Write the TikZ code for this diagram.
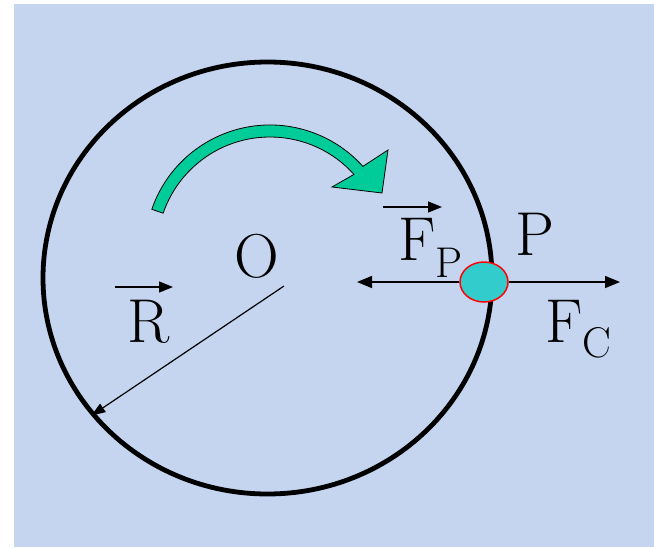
\documentclass[tikz,border=0pt]{standalone}
\usepackage{tikz}
\usetikzlibrary{positioning, shapes.geometric, arrows.meta, calc}
\definecolor{bgblue}{HTML}{C5D5F0}
\definecolor{spin}{HTML}{00CC99}
\definecolor{mass}{HTML}{33CCCC}

\begin{document}
\begin{tikzpicture}[x=1pt, y=-1pt,
 lbl/.style={inner sep=0pt, font=\rmfamily\fontsize{62}{62}\selectfont},
 force/.style={-{Triangle[length=15pt,width=12pt]}, line width=1.5pt},
 vec/.style={-{Triangle[length=14pt,width=11pt]}, line width=1.3pt}]
\useasboundingbox (0,0) rectangle (654,547);
\fill[bgblue] (14,4) rectangle (654,547);

\node[draw, ellipse, line width=4.8pt, minimum width=449pt, minimum height=432pt, inner sep=0pt](rim) at (267.5,278){};
\node[draw=red, fill=mass, ellipse, line width=1.5pt, minimum width=48pt, minimum height=40pt, inner sep=0pt](ball) at (484,282){};

% rotation sense
\coordinate (c) at (270,250);
\filldraw[fill=spin, draw=black, line width=0.8pt]
  ($(c)+(199:125)$) arc[start angle=199, end angle=318, radius=125]
  -- (388,150) -- (382,193) -- (332,187)
  -- ($(c)+(318:113)$) arc[start angle=318, end angle=199, radius=113] -- cycle;

\node[lbl, anchor=base](o) at (257,277){O};
\coordinate (ctr) at (284,286);
\draw[-{Triangle[length=14pt,width=10pt]}, line width=1.2pt](ctr)--(rim.218);

\node[lbl, anchor=base](r) at (149,342){R};
\coordinate (ra) at (115,287);
\coordinate (rb) at (173,287);
\draw[vec](ra)--(rb);

\coordinate (fptip) at (357,282);
\coordinate (fctip) at (620,282);
\draw[force](ball.west)--(fptip);
\draw[force](ball.east)--(fctip);

\node[lbl, anchor=base west](fp) at (398,260){F\raisebox{-17pt}{\fontsize{43}{43}\selectfont P}};
\coordinate (fa) at (383,207);
\coordinate (fb) at (442,207);
\draw[vec](fa)--(fb);

\node[lbl, anchor=base west](p) at (515,255){P};
\node[lbl, anchor=base west](fc) at (545,342){F\raisebox{-15pt}{\fontsize{43}{43}\selectfont C}};

\end{tikzpicture}
\end{document}
